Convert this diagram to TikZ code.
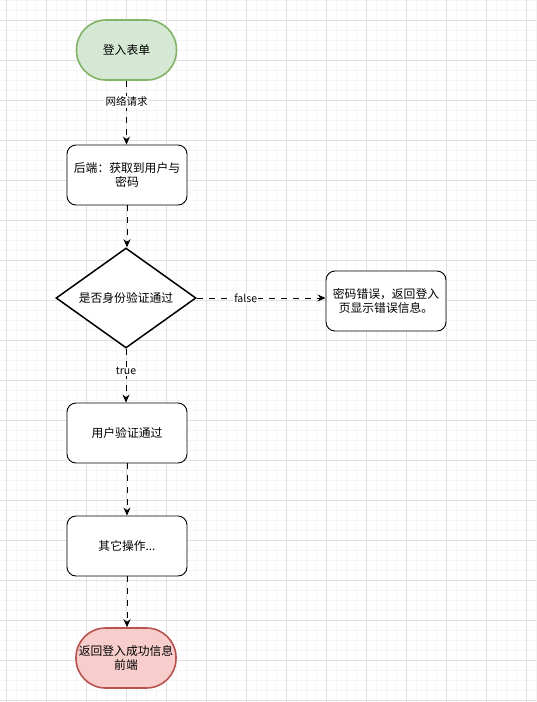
\documentclass[tikz,border=0pt]{standalone}
\usepackage{fontspec}
\setmainfont{Noto Sans CJK SC}
\usetikzlibrary{shapes.geometric,arrows.meta}
\definecolor{gmin}{HTML}{F5F5F5}
\definecolor{gmaj}{HTML}{E0E0E0}
\definecolor{gfill}{HTML}{D5E8D4}
\definecolor{gline}{HTML}{82B366}
\definecolor{rfill}{HTML}{F8CECC}
\definecolor{rline}{HTML}{B85450}
\begin{document}
\begin{tikzpicture}[x=1pt,y=-1pt,
  every node/.style={font=\fontsize{11.8}{14}\selectfont, align=center},
  term/.style={draw, line width=1.6pt, rounded corners=29.5pt, minimum width=100pt, minimum height=60pt, inner sep=0pt},
  box/.style={draw, line width=0.9pt, rounded corners=9pt, minimum width=120pt, minimum height=60pt, inner sep=0pt, fill=white},
  dia/.style={draw, line width=1.5pt, diamond, minimum width=140pt, minimum height=100pt, inner sep=0pt, fill=white},
  conn/.style={draw, line width=0.9pt, dash pattern=on 6pt off 6pt, -{Stealth[length=8pt,width=7pt]}},
  elabel/.style={fill=white, inner sep=1pt, font=\fontsize{10.5}{12}\selectfont}
]
\useasboundingbox (0,0) rectangle (536,702);
\fill[white] (0,0) rectangle (536,702);
% grid
\foreach \x in {6,16,...,536} \draw[gmin, line width=0.8pt] (\x,0) -- (\x,702);
\foreach \y in {0,10,...,702} \draw[gmin, line width=0.8pt] (0,\y) -- (536,\y);
\foreach \x in {6,46,...,536} \draw[gmaj, line width=0.8pt] (\x,0) -- (\x,702);
\foreach \y in {20,60,...,702} \draw[gmaj, line width=0.8pt] (0,\y) -- (536,\y);

\node[term, fill=gfill, draw=gline] (start) at (126.5,50) {登入表单};
\node[box] (backend) at (127,175) {后端：获取到用户与\\密码};
\node[dia] (check) at (126,298) {\makebox[0pt]{是否身份验证通过}};
\node[box] (err) at (386,301) {密码错误，返回登入\\页显示错误信息。};
\node[box] (ok) at (127,433) {用户验证通过};
\node[box] (other) at (127,546) {其它操作...};
\node[term, fill=rfill, draw=rline] (end) at (126,658) {返回登入成功信息\\前端};

\draw[conn] (start.south) -- node[elabel, pos=0.33] {网络请求} (start.south |- backend.north);
\draw[conn] (backend.south) -- (backend.south |- check.north);
\draw[conn] (check.east) -- node[elabel, pos=0.38] {false} (check.east -| err.west);
\draw[conn] (check.south) -- node[elabel, pos=0.42] {true} (check.south |- ok.north);
\draw[conn] (ok.south) -- (other.north);
\draw[conn] (other.south) -- (other.south |- end.north);
\end{tikzpicture}
\end{document}
